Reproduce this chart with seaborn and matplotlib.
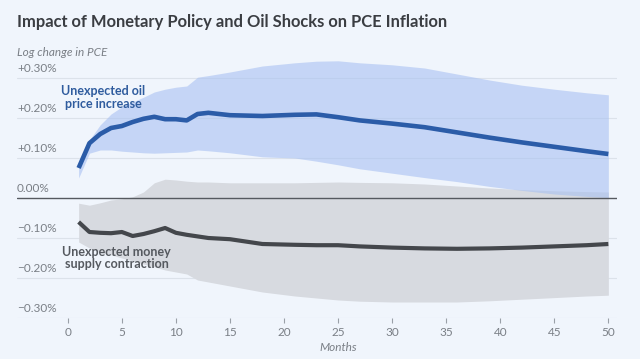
import matplotlib
matplotlib.use("Agg")
import matplotlib.pyplot as plt
import matplotlib.transforms as mtransforms
import seaborn as sns
import pandas as pd

# ---- data (percent log change in PCE) ----
months = [1, 2, 3, 4, 5, 6, 7, 8, 9, 10, 11, 12, 13, 15, 18, 21, 23, 25, 27, 30, 33, 36, 39, 42, 45, 48, 50]

oil_mid = [0.075, 0.137, 0.160, 0.175, 0.180, 0.190, 0.198, 0.203, 0.197, 0.197, 0.194, 0.210, 0.213,
           0.207, 0.205, 0.208, 0.209, 0.202, 0.194, 0.186, 0.177, 0.164, 0.151, 0.139, 0.128, 0.117, 0.110]
oil_hi = [0.088, 0.145, 0.183, 0.210, 0.228, 0.240, 0.252, 0.265, 0.272, 0.277, 0.280, 0.302, 0.306,
          0.315, 0.330, 0.338, 0.342, 0.343, 0.338, 0.333, 0.325, 0.310, 0.295, 0.282, 0.272, 0.263, 0.258]
oil_lo = [0.050, 0.112, 0.120, 0.120, 0.117, 0.115, 0.113, 0.112, 0.113, 0.114, 0.115, 0.120, 0.118,
          0.113, 0.103, 0.100, 0.092, 0.083, 0.073, 0.062, 0.051, 0.041, 0.029, 0.019, 0.010, 0.004, 0.001]

money_mid = [-0.060, -0.085, -0.087, -0.088, -0.085, -0.095, -0.090, -0.083, -0.075, -0.087, -0.092, -0.096, -0.100,
             -0.103, -0.115, -0.117, -0.118, -0.118, -0.121, -0.124, -0.126, -0.127, -0.126, -0.124, -0.121, -0.118, -0.115]
money_hi = [-0.013, -0.018, -0.012, -0.005, -0.002, 0.003, 0.015, 0.038, 0.047, 0.045, 0.042, 0.040, 0.040,
            0.038, 0.038, 0.038, 0.039, 0.040, 0.039, 0.038, 0.035, 0.030, 0.025, 0.021, 0.018, 0.016, 0.015]
money_lo = [-0.110, -0.125, -0.135, -0.142, -0.150, -0.157, -0.165, -0.172, -0.180, -0.185, -0.190, -0.205, -0.210,
            -0.220, -0.235, -0.245, -0.250, -0.255, -0.258, -0.260, -0.260, -0.260, -0.257, -0.253, -0.249, -0.245, -0.243]

y_ticks = [0.30, 0.20, 0.10, 0.00, -0.10, -0.20, -0.30]
y_tick_labels = ["+0.30%", "+0.20%", "+0.10%", "0.00%", "\u22120.10%", "\u22120.20%", "\u22120.30%"]
x_ticks = [0, 5, 10, 15, 20, 25, 30, 35, 40, 45, 50]

title = "Impact of Monetary Policy and Oil Shocks on PCE Inflation"
subtitle = "Log change in PCE"
x_label = "Months"
oil_label = "Unexpected oil\nprice increase"
money_label = "Unexpected money\nsupply contraction"

# ---- style ----
BG = "#F0F5FC"
BLUE = "#2B5CA8"
GRAY = "#44474C"
GRAY_BAND = "#D7DAE0"
TEXT = "#7A7F86"

sns.set_theme(style="white")
plt.rcParams["font.family"] = ["Lato", "DejaVu Sans"]

fig = plt.figure(figsize=(6.4, 3.59), dpi=100, facecolor=BG)
ax = fig.add_axes([17 / 640, 1 - 318 / 359, 600 / 640, (318 - 58) / 359])
ax.set_facecolor(BG)

df = pd.DataFrame({"month": months, "oil": oil_mid, "money": money_mid})

# bands
ax.fill_between(months, money_lo, money_hi, color=GRAY_BAND, lw=0, zorder=1)
ax.fill_between(months, oil_lo, oil_hi, color="#A9C1F2", alpha=0.6, lw=0, zorder=2)

# grid lines
for v in y_ticks:
    if v == 0:
        ax.axhline(v, color="#55595F", lw=1.0, zorder=3)
    else:
        ax.axhline(v, color="#DCE2EA", lw=0.8, zorder=0.5)

sns.lineplot(data=df, x="month", y="oil", ax=ax, color=BLUE, lw=3.3, zorder=4,
             solid_capstyle="butt")
sns.lineplot(data=df, x="month", y="money", ax=ax, color=GRAY, lw=3.0, zorder=4,
             solid_capstyle="butt")

ax.set_xlim(-4.7, 50.8)
ax.set_ylim(-0.30, 0.35)
for s in ax.spines.values():
    s.set_visible(False)

ax.set_xticks(x_ticks)
ax.set_xticklabels([str(t) for t in x_ticks])
ax.tick_params(axis="x", length=3.5, width=0.8, color="#9AA0A8", labelcolor=TEXT,
               labelsize=8.5, pad=3, direction="out", bottom=True)
ax.set_yticks([])
ax.set_xlabel("")
ax.set_ylabel("")

# y tick labels above grid lines
trans = mtransforms.blended_transform_factory(ax.transAxes, ax.transData)
offset = mtransforms.offset_copy(trans, fig=fig, x=0, y=3, units="points")
for v, lab in zip(y_ticks, y_tick_labels):
    ax.text(0.0, v, lab, transform=offset, ha="left", va="bottom",
            fontsize=8.5, color=TEXT)

# series labels
ax.text(3.3, 0.25, oil_label, ha="center", va="center", fontsize=9,
        fontweight="bold", color="#2F5C9E", linespacing=1.1, zorder=5)
ax.text(4.5, -0.15, money_label, ha="center", va="center", fontsize=9,
        fontweight="bold", color="#55595F", linespacing=1.1, zorder=5)

# axis label
ax.text(25, -0.30, x_label,
        transform=mtransforms.offset_copy(ax.transData, fig=fig, x=0, y=-17, units="points"),
        ha="center", va="top", fontsize=8.5, style="italic", color=TEXT)

# title & subtitle
fig.text(17 / 640, 1 - 22 / 359, title, ha="left", va="center", fontsize=11.9,
         fontweight="bold", color="#3A3D42")
fig.text(17 / 640, 1 - 52 / 359, subtitle, ha="left", va="center", fontsize=8.5,
         style="italic", color=TEXT)

fig.savefig("out.png", dpi=100, facecolor=BG)
